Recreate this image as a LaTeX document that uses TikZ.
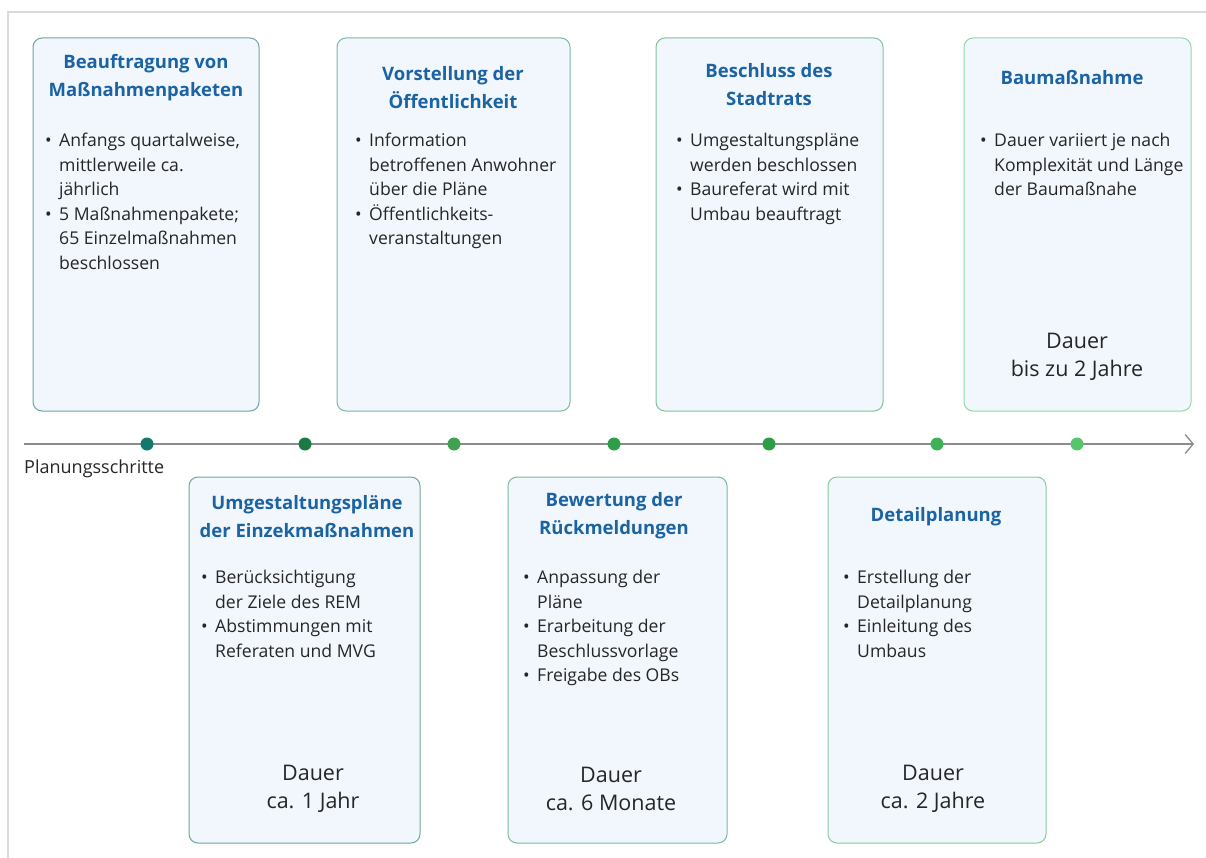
\documentclass[tikz,border=0pt]{standalone}
\usepackage{fontspec}
\setmainfont{Open Sans}
\usetikzlibrary{arrows.meta}

\newcommand\bul{\makebox[14pt][l]{\textbullet}}
\newcommand\ind{\hspace*{14pt}}

\begin{document}
\begin{tikzpicture}[x=1pt,y=-1pt,
	box/.style={draw, fill=cBoxFill, rounded corners=9pt, line width=1pt, inner sep=0pt},
	upbox/.style={box, minimum height=373pt},
	lowbox/.style={box, minimum height=366pt},
	title/.style={align=center, text=cTitle, inner sep=0pt, font=\bfseries\fontsize{18.5}{28}\selectfont},
	bullets/.style={align=left, anchor=north west, text=cText, inner sep=0pt, font=\fontsize{17.6}{24.5}\selectfont},
	duration/.style={align=center, text=cText, inner sep=0pt, font=\fontsize{21.5}{28}\selectfont},
	dot/.style={circle, inner sep=0pt, minimum size=13pt}]
	\definecolor{cFrame}{HTML}{DADADA}
	\definecolor{cBoxFill}{HTML}{F1F7FC}
	\definecolor{cTitle}{HTML}{1B63A3}
	\definecolor{cText}{HTML}{262626}
	\definecolor{cAxis}{HTML}{8C8C8C}
	\definecolor{cB1}{HTML}{6FA3A3}
	\definecolor{cB2}{HTML}{7DB8A6}
	\definecolor{cB3}{HTML}{7FC39C}
	\definecolor{cB4}{HTML}{93D9A8}
	\definecolor{cB5}{HTML}{6FA697}
	\definecolor{cB6}{HTML}{7AB9A0}
	\definecolor{cB7}{HTML}{86CB9C}
	\definecolor{cD1}{HTML}{137A6B}
	\definecolor{cD2}{HTML}{1B7A43}
	\definecolor{cD3}{HTML}{3FA152}
	\definecolor{cD4}{HTML}{2F9E4A}
	\definecolor{cD5}{HTML}{2E9D47}
	\definecolor{cD6}{HTML}{3BB257}
	\definecolor{cD7}{HTML}{57C56C}

	\useasboundingbox (0,0) rectangle (1206,858);
	\draw[cFrame, line width=2pt] (8,858) -- (8,12) -- (1206,12);

	\node[upbox, draw=cB1, minimum width=226pt] (auftrag) at (146,224.5) {};
	\node[upbox, draw=cB2, minimum width=233pt] (vorstellung) at (453.5,224.5) {};
	\node[upbox, draw=cB3, minimum width=227pt] (beschluss) at (769.5,224.5) {};
	\node[upbox, draw=cB4, minimum width=227pt] (bau) at (1077.5,224.5) {};
	\node[lowbox, draw=cB5, minimum width=231pt] (umgestaltung) at (304.5,660) {};
	\node[lowbox, draw=cB6, minimum width=219pt] (bewertung) at (617.5,660) {};
	\node[lowbox, draw=cB7, minimum width=218pt] (detail) at (937,660) {};

	\node[title] (auftragT) at (146,78) {Beauftragung von\\Maßnahmenpaketen};
	\node[title] (vorstellungT) at (453,87.5) {Vorstellung der\\Öffentlichkeit};
	\node[title] (beschlussT) at (769,84.5) {Beschluss des\\Stadtrats};
	\node[title] (bauT) at (1072,78) {Baumaßnahme};
	\node[title] (umgestaltungT) at (307,517) {Umgestaltungspläne\\der Einzekmaßnahmen};
	\node[title] (bewertungT) at (614,516) {Bewertung der\\Rückmeldungen};
	\node[title] (detailT) at (936,517) {Detailplanung};

	\node[bullets] (auftragL) at (45,133) {\bul Anfangs quartalweise,\\\ind mittlerweile ca.\\\ind jährlich\\\bul 5 Maßnahmenpakete;\\\ind 65 Einzelmaßnahmen\\\ind beschlossen};
	\node[bullets] (vorstellungL) at (355,133) {\bul Information\\\ind betroffenen Anwohner\\\ind über die Pläne\\\bul Öffentlichkeits-\\\ind veranstaltungen};
	\node[bullets] (beschlussL) at (676,133) {\bul Umgestaltungspläne\\\ind werden beschlossen\\\bul Baureferat wird mit\\\ind Umbau beauftragt};
	\node[bullets] (bauL) at (980,133) {\bul Dauer variiert je nach\\\ind Komplexität und Länge\\\ind der Baumaßnahe};
	\node[bullets] (umgestaltungL) at (201,570) {\bul Berücksichtigung\\\ind der Ziele des REM\\\bul Abstimmungen mit\\\ind Referaten und MVG};
	\node[bullets] (bewertungL) at (523,570) {\bul Anpassung der\\\ind Pläne\\\bul Erarbeitung der\\\ind Beschlussvorlage\\\bul Freigabe des OBs};
	\node[bullets] (detailL) at (843,570) {\bul Erstellung der\\\ind Detailplanung\\\bul Einleitung des\\\ind Umbaus};

	\node[duration] (bauD) at (1077,357) {Dauer\\bis zu 2 Jahre};
	\node[duration] (umgestaltungD) at (313,789) {Dauer\\ca. 1 Jahr};
	\node[duration] (bewertungD) at (611,789) {Dauer\\ca. 6 Monate};
	\node[duration] (detailD) at (933,789) {Dauer\\ca. 2 Jahre};

	\coordinate (axisStart) at (24,444);
	\coordinate (axisEnd) at (1194,444);
	\draw[cAxis, line width=1.3pt, -{Straight Barb[length=8pt, width=19pt, line width=1.3pt]}] (axisStart) -- (axisEnd);
	\node[anchor=west, inner sep=0pt, text=cText, font=\fontsize{18}{20}\selectfont] (axisLabel) at (24,469) {Planungsschritte};

	\node[dot, fill=cD1] (step1) at (147,444) {};
	\node[dot, fill=cD2] (step2) at (305,444) {};
	\node[dot, fill=cD3] (step3) at (454,444) {};
	\node[dot, fill=cD4] (step4) at (614,444) {};
	\node[dot, fill=cD5] (step5) at (769,444) {};
	\node[dot, fill=cD6] (step6) at (937,444) {};
	\node[dot, fill=cD7] (step7) at (1077,444) {};
\end{tikzpicture}
\end{document}
